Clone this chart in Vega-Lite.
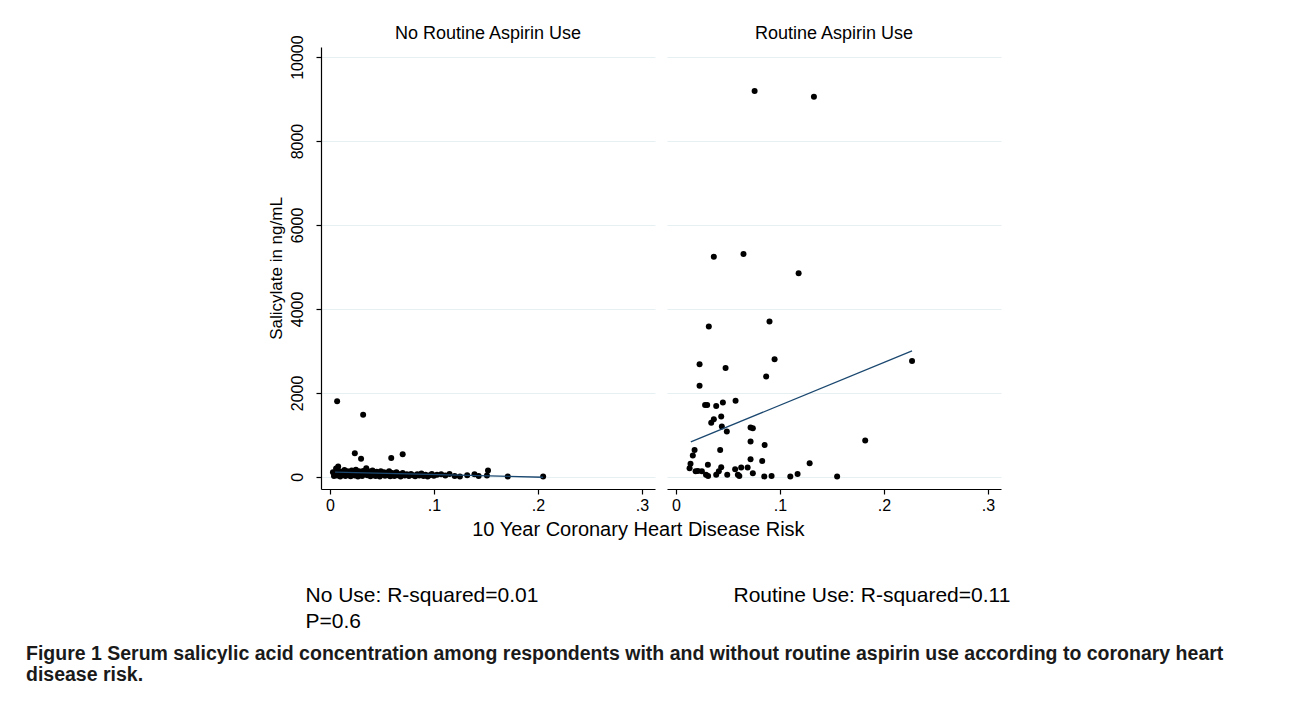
{
  "$schema": "https://vega.github.io/schema/vega-lite/v6.json",
  "background": "white",
  "padding": {"left": 26, "top": 24, "right": 5, "bottom": 5},
  "datasets": {
    "pts": [
      {"g":"No","r":0.007,"s":1800},{"g":"No","r":0.032,"s":1480},{"g":"No","r":0.024,"s":564},{"g":"No","r":0.030,"s":430},{"g":"No","r":0.059,"s":450},{"g":"No","r":0.070,"s":540},{"g":"No","r":0.003,"s":110},{"g":"No","r":0.006,"s":200},
      {"g":"No","r":0.004,"s":20},{"g":"No","r":0.005,"s":60},{"g":"No","r":0.006,"s":110},{"g":"No","r":0.007,"s":30},{"g":"No","r":0.008,"s":245},{"g":"No","r":0.008,"s":150},{"g":"No","r":0.009,"s":80},{"g":"No","r":0.010,"s":10},
      {"g":"No","r":0.011,"s":120},{"g":"No","r":0.012,"s":50},{"g":"No","r":0.013,"s":90},{"g":"No","r":0.014,"s":160},{"g":"No","r":0.015,"s":20},{"g":"No","r":0.016,"s":70},{"g":"No","r":0.017,"s":130},{"g":"No","r":0.018,"s":40},
      {"g":"No","r":0.019,"s":100},{"g":"No","r":0.020,"s":15},{"g":"No","r":0.021,"s":150},{"g":"No","r":0.022,"s":60},{"g":"No","r":0.023,"s":110},{"g":"No","r":0.024,"s":30},{"g":"No","r":0.025,"s":170},{"g":"No","r":0.026,"s":80},
      {"g":"No","r":0.027,"s":10},{"g":"No","r":0.028,"s":130},{"g":"No","r":0.029,"s":55},{"g":"No","r":0.030,"s":95},{"g":"No","r":0.031,"s":20},{"g":"No","r":0.032,"s":140},{"g":"No","r":0.033,"s":65},{"g":"No","r":0.034,"s":110},
      {"g":"No","r":0.035,"s":206},{"g":"No","r":0.036,"s":35},{"g":"No","r":0.037,"s":85},{"g":"No","r":0.038,"s":125},{"g":"No","r":0.039,"s":15},{"g":"No","r":0.040,"s":70},{"g":"No","r":0.041,"s":150},{"g":"No","r":0.042,"s":40},
      {"g":"No","r":0.043,"s":100},{"g":"No","r":0.044,"s":20},{"g":"No","r":0.045,"s":120},{"g":"No","r":0.046,"s":60},{"g":"No","r":0.047,"s":90},{"g":"No","r":0.048,"s":10},{"g":"No","r":0.049,"s":135},{"g":"No","r":0.050,"s":50},
      {"g":"No","r":0.051,"s":80},{"g":"No","r":0.052,"s":110},{"g":"No","r":0.053,"s":25},{"g":"No","r":0.054,"s":70},{"g":"No","r":0.055,"s":100},{"g":"No","r":0.056,"s":40},{"g":"No","r":0.057,"s":130},{"g":"No","r":0.058,"s":15},
      {"g":"No","r":0.060,"s":90},{"g":"No","r":0.061,"s":55},{"g":"No","r":0.062,"s":20},{"g":"No","r":0.063,"s":80},{"g":"No","r":0.064,"s":110},{"g":"No","r":0.065,"s":35},{"g":"No","r":0.066,"s":70},{"g":"No","r":0.068,"s":10},
      {"g":"No","r":0.069,"s":50},{"g":"No","r":0.070,"s":90},{"g":"No","r":0.072,"s":30},{"g":"No","r":0.074,"s":60},{"g":"No","r":0.076,"s":20},{"g":"No","r":0.078,"s":70},{"g":"No","r":0.080,"s":40},{"g":"No","r":0.082,"s":15},
      {"g":"No","r":0.084,"s":60},{"g":"No","r":0.086,"s":30},{"g":"No","r":0.088,"s":80},{"g":"No","r":0.090,"s":20},{"g":"No","r":0.092,"s":50},{"g":"No","r":0.094,"s":10},{"g":"No","r":0.096,"s":40},{"g":"No","r":0.098,"s":70},
      {"g":"No","r":0.100,"s":25},{"g":"No","r":0.103,"s":50},{"g":"No","r":0.107,"s":60},{"g":"No","r":0.111,"s":30},{"g":"No","r":0.115,"s":70},{"g":"No","r":0.120,"s":20},{"g":"No","r":0.125,"s":10},{"g":"No","r":0.132,"s":40},
      {"g":"No","r":0.139,"s":60},{"g":"No","r":0.143,"s":20},{"g":"No","r":0.151,"s":30},{"g":"No","r":0.152,"s":150},{"g":"No","r":0.171,"s":10},{"g":"No","r":0.205,"s":10},
      {"g":"Yes","r":0.0757,"s":9190},{"g":"Yes","r":0.1327,"s":9055},{"g":"Yes","r":0.0365,"s":5245},{"g":"Yes","r":0.065,"s":5310},{"g":"Yes","r":0.118,"s":4850},{"g":"Yes","r":0.0317,"s":3580},{"g":"Yes","r":0.090,"s":3700},{"g":"Yes","r":0.0228,"s":2680},
      {"g":"Yes","r":0.0478,"s":2590},{"g":"Yes","r":0.0949,"s":2800},{"g":"Yes","r":0.0868,"s":2390},{"g":"Yes","r":0.227,"s":2760},{"g":"Yes","r":0.0228,"s":2170},{"g":"Yes","r":0.0281,"s":1710},{"g":"Yes","r":0.0301,"s":1710},{"g":"Yes","r":0.0388,"s":1690},
      {"g":"Yes","r":0.0452,"s":1770},{"g":"Yes","r":0.0574,"s":1810},{"g":"Yes","r":0.0436,"s":1440},{"g":"Yes","r":0.0365,"s":1370},{"g":"Yes","r":0.034,"s":1290},{"g":"Yes","r":0.0442,"s":1200},{"g":"Yes","r":0.049,"s":1080},{"g":"Yes","r":0.0718,"s":1175},
      {"g":"Yes","r":0.074,"s":1160},{"g":"Yes","r":0.0718,"s":840},{"g":"Yes","r":0.0853,"s":760},{"g":"Yes","r":0.182,"s":865},{"g":"Yes","r":0.018,"s":640},{"g":"Yes","r":0.0163,"s":510},{"g":"Yes","r":0.0426,"s":640},{"g":"Yes","r":0.0718,"s":420},
      {"g":"Yes","r":0.083,"s":380},{"g":"Yes","r":0.1286,"s":325},{"g":"Yes","r":0.0141,"s":310},{"g":"Yes","r":0.0132,"s":205},{"g":"Yes","r":0.019,"s":130},{"g":"Yes","r":0.0212,"s":140},{"g":"Yes","r":0.025,"s":130},{"g":"Yes","r":0.0308,"s":285},
      {"g":"Yes","r":0.029,"s":50},{"g":"Yes","r":0.031,"s":20},{"g":"Yes","r":0.0388,"s":50},{"g":"Yes","r":0.0413,"s":130},{"g":"Yes","r":0.0436,"s":230},{"g":"Yes","r":0.0494,"s":50},{"g":"Yes","r":0.057,"s":180},{"g":"Yes","r":0.0596,"s":50},
      {"g":"Yes","r":0.061,"s":20},{"g":"Yes","r":0.0628,"s":220},{"g":"Yes","r":0.069,"s":220},{"g":"Yes","r":0.074,"s":85},{"g":"Yes","r":0.085,"s":10},{"g":"Yes","r":0.092,"s":20},{"g":"Yes","r":0.110,"s":10},{"g":"Yes","r":0.117,"s":70},
      {"g":"Yes","r":0.155,"s":10}
    ],
    "fit": [
      {"g":"No","r":0.005,"s":110},{"g":"No","r":0.205,"s":-10},
      {"g":"Yes","r":0.0144,"s":833},{"g":"Yes","r":0.227,"s":3000}
    ]
  },
  "title": {
    "text": ["Figure 1 Serum salicylic acid concentration among respondents with and without routine aspirin use according to coronary heart", "disease risk."],
    "orient": "bottom", "anchor": "start", "dx": -241, "offset": 14,
    "font": "Liberation Sans", "fontSize": 19.5, "fontWeight": "bold", "color": "#1a1a1a", "lineHeight": 21
  },
  "vconcat": [
    {
      "title": {
        "text": "10 Year Coronary Heart Disease Risk",
        "orient": "bottom", "anchor": "middle", "offset": -111,
        "font": "Liberation Sans", "fontSize": 20, "fontWeight": "normal", "color": "#000"
      },
      "spacing": 12,
      "hconcat": [
        {
          "width": 334, "height": 442,
          "title": {"text": "No Routine Aspirin Use", "frame": "group", "anchor": "middle", "offset": -8, "font": "Liberation Sans", "fontSize": 18, "fontWeight": "normal", "color": "#000"},
          "encoding": {
            "x": {"field": "r", "type": "quantitative", "scale": {"domain": [-0.0085, 0.3125], "nice": false, "zero": false},
              "axis": {"values": [0, 0.1, 0.2, 0.3], "labelExpr": "datum.value == 0 ? '0' : replace(format(datum.value, '.1f'), '0.', '.')",
                "grid": false, "labelFlush": false, "tickSize": 5, "labelPadding": 3, "labelFontSize": 16,
                "title": ["No Use: R-squared=0.01", "P=0.6"], "titleFontSize": 21, "titleFontWeight": "normal",
                "titleAlign": "left", "titleAnchor": "start", "titleBaseline": "alphabetic", "titleX": -16, "titleY": 112, "titleLineHeight": 26}},
            "y": {"field": "s", "type": "quantitative", "scale": {"domain": [-290, 10240], "nice": false, "zero": false},
              "axis": {"values": [0, 2000, 4000, 6000, 8000, 10000], "format": "d", "labelAngle": -90, "labelFontSize": 16,
                "tickSize": 5, "labelPadding": 11, "grid": true, "gridColor": "#e6eff1",
                "title": "Salicylate in ng/mL", "titleFontSize": 17, "titleFontWeight": "normal", "titlePadding": 4}}
          },
          "layer": [
            {"data": {"name": "pts"}, "transform": [{"filter": "datum.g == 'No'"}],
             "mark": {"type": "point", "shape": "circle", "filled": true, "size": 36, "color": "#000", "opacity": 1}},
            {"data": {"name": "fit"}, "transform": [{"filter": "datum.g == 'No'"}],
             "mark": {"type": "line", "color": "#1a476f", "strokeWidth": 1.3}}
          ]
        },
        {
          "width": 334, "height": 442,
          "title": {"text": "Routine Aspirin Use", "frame": "group", "anchor": "middle", "offset": 4, "font": "Liberation Sans", "fontSize": 18, "fontWeight": "normal", "color": "#000"},
          "encoding": {
            "x": {"field": "r", "type": "quantitative", "scale": {"domain": [-0.0085, 0.3125], "nice": false, "zero": false},
              "axis": {"values": [0, 0.1, 0.2, 0.3], "labelExpr": "datum.value == 0 ? '0' : replace(format(datum.value, '.1f'), '0.', '.')",
                "grid": false, "labelFlush": false, "tickSize": 5, "labelPadding": 3, "labelFontSize": 16,
                "title": "Routine Use: R-squared=0.11", "titleFontSize": 21, "titleFontWeight": "normal",
                "titleAlign": "left", "titleAnchor": "start", "titleBaseline": "alphabetic", "titleX": 66, "titleY": 112}},
            "y": {"field": "s", "type": "quantitative", "scale": {"domain": [-290, 10240], "nice": false, "zero": false},
              "axis": {"values": [0, 2000, 4000, 6000, 8000, 10000], "domain": false, "ticks": false, "labels": false,
                "grid": true, "gridColor": "#e6eff1", "title": null}}
          },
          "layer": [
            {"data": {"name": "pts"}, "transform": [{"filter": "datum.g == 'Yes'"}],
             "mark": {"type": "point", "shape": "circle", "filled": true, "size": 36, "color": "#000", "opacity": 1}},
            {"data": {"name": "fit"}, "transform": [{"filter": "datum.g == 'Yes'"}],
             "mark": {"type": "line", "color": "#1a476f", "strokeWidth": 1.3}}
          ]
        }
      ]
    }
  ],
  "config": {
    "view": {"stroke": null},
    "axis": {"labelFont": "Liberation Sans", "titleFont": "Liberation Sans", "labelColor": "#000", "titleColor": "#000",
      "domainColor": "#000", "tickColor": "#000", "domainWidth": 1.2, "tickWidth": 1.2}
  }
}
